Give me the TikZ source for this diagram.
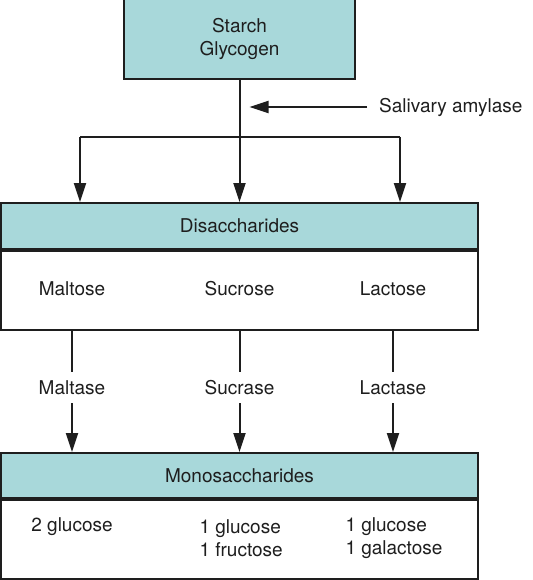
\documentclass[tikz,border=0pt]{standalone}
\usepackage{fontspec}
\setmainfont{TeX Gyre Heros}
\usetikzlibrary{arrows.meta}
\definecolor{boxfill}{HTML}{A8D8DA}
\definecolor{ink}{HTML}{1E1E1E}
\begin{document}
\begin{tikzpicture}[x=1pt,y=-1pt,
  every node/.style={font=\fontsize{19}{23}\selectfont, text=ink},
  line/.style={draw=ink, line width=2pt},
  arr/.style={line, -{Triangle[length=19pt,width=12pt]}},
  headbox/.style={draw=ink, line width=2pt, fill=boxfill, inner sep=0pt},
  bodybox/.style={draw=ink, line width=2pt, fill=white, inner sep=0pt},
  lbl/.style={inner sep=0pt, minimum height=31pt}]
\useasboundingbox (0,0) rectangle (532,580);
% top box
\node[headbox, minimum width=231pt, minimum height=80pt, align=center] (top) at (239.5,39) {Starch\\Glycogen};
% disaccharides
\node[headbox, minimum width=477pt, minimum height=46pt] (dhead) at (239.5,226) {Disaccharides};
\node[bodybox, minimum width=477pt, minimum height=79pt, anchor=north] (dbody) at (dhead.south) {};
\node (maltose) at (72,289) {Maltose};
\node (sucrose) at (239.5,289) {Sucrose};
\node (lactose) at (393,289) {Lactose};
% monosaccharides
\node[headbox, minimum width=477pt, minimum height=45pt] (mhead) at (239.5,475.5) {Monosaccharides};
\node[bodybox, minimum width=477pt, minimum height=79pt, anchor=north] (mbody) at (mhead.south) {};
\node (glc) at (72,527) {2 glucose};
\node[align=left, anchor=west] (glcfru) at (196,538.5) {1 glucose\\1 fructose};
\node[align=left, anchor=west] (glcgal) at (342,538.5) {1 glucose\\1 galactose};
% salivary amylase
\node[anchor=west, inner sep=0pt] (sal) at (379,107) {Salivary amylase};
\draw[arr, shorten >=10pt] ([xshift=-12pt]sal.west) -- (sal.west -| top.south);
% branches
\coordinate (bl) at (80,137);
\coordinate (br) at (400,137);
\draw[arr] (top.south) -- (dhead.north -| top.south);
\draw[line] (bl) -- (br);
\draw[arr] (bl) -- (bl |- dhead.north);
\draw[arr] (br) -- (br |- dhead.north);
% enzymes
\node[lbl] (maltase) at (72,387.5) {Maltase};
\node[lbl] (sucrase) at (239.5,387.5) {Sucrase};
\node[lbl] (lactase) at (393,387.5) {Lactase};
\foreach \e in {maltase,sucrase,lactase}{
  \draw[line] (dbody.south -| \e) -- (\e);
  \draw[arr] (\e) -- (\e |- mhead.north);
}
\end{tikzpicture}
\end{document}
